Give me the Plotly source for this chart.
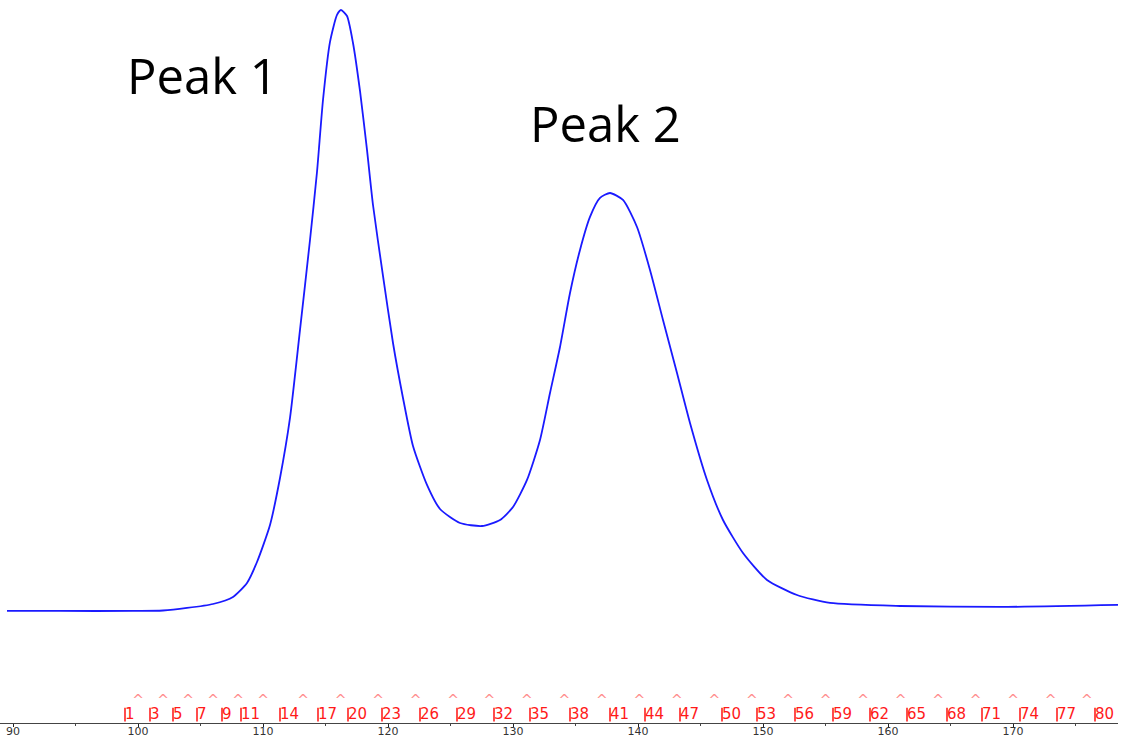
import plotly.graph_objects as go

# Chromatogram trace (elution volume, absorbance in relative units)
volume = [89.52, 93.76, 99.6, 102.0, 103.92, 106.0, 107.6, 108.72, 109.52, 110.56,
          111.36, 112.16, 112.96, 113.76, 114.32, 114.8, 115.36, 115.92, 116.24, 116.72,
          117.2, 117.76, 118.32, 118.8, 119.6, 120.4, 121.2, 122.0, 123.12, 124.16,
          125.76, 127.52, 128.96, 130.0, 131.12, 132.16, 132.96, 133.76, 134.56, 135.36,
          136.16, 136.96, 137.76, 138.8, 139.92, 140.96, 142.0, 143.12, 144.16, 145.52,
          146.8, 148.4, 150.32, 152.72, 155.36, 160.96, 168.96, 178.4]
absorbance = [0.0, 0.0, 0.0, 0.08, 0.5, 1.16, 2.33, 4.66, 8.15, 14.31,
              22.13, 32.11, 46.76, 61.73, 73.04, 85.02, 94.68, 99.17, 100.0, 99.0,
              94.51, 86.52, 76.71, 67.55, 55.74, 44.59, 35.44, 27.45, 20.97, 16.97,
              14.64, 14.14, 15.14, 17.30, 21.80, 28.45, 36.27, 43.93, 52.91, 60.07,
              65.56, 68.72, 69.55, 68.39, 63.89, 56.74, 48.42, 39.60, 31.28, 21.80,
              15.14, 9.65, 5.16, 2.66, 1.33, 0.83, 0.67, 1.0]

# Fraction markers
fraction_labels = ["1", "3", "5", "7", "9", "11", "14", "17", "20", "23", "26", "29",
                   "32", "35", "38", "41", "44", "47", "50", "53", "56", "59", "62",
                   "65", "68", "71", "74", "77", "80"]
fraction_pos = [98.96, 100.96, 102.8, 104.72, 106.72, 108.24, 111.36, 114.4, 116.8,
                119.52, 122.56, 125.52, 128.48, 131.36, 134.56, 137.76, 140.56, 143.36,
                146.72, 149.52, 152.56, 155.6, 158.56, 161.52, 164.72, 167.52, 170.56,
                173.52, 176.56]
caret_pos = [100, 102, 104, 106, 108, 110, 113.2, 116.2, 119.2, 122.2, 125.2, 128.1,
             131.1, 134.1, 137.1, 140.1, 143.1, 146.1, 149.1, 152.0, 155.0, 158.0,
             161.0, 164.0, 167.0, 170.0, 173.0, 175.9]

peak_labels = ["Peak 1", "Peak 2"]

fig = go.Figure()

fig.add_trace(go.Scatter(
    x=volume, y=absorbance, mode="lines",
    line=dict(color="#1a1aff", width=1.8, shape="spline", smoothing=0.6),
    hoverinfo="x+y", showlegend=False,
))

# fraction bars
bx, by = [], []
for p in fraction_pos:
    bx += [p, p, None]
    by += [0.002, 0.021, None]
fig.add_trace(go.Scatter(x=bx, y=by, mode="lines", line=dict(color="#ff2020", width=1.6),
                         yaxis="y2", showlegend=False, hoverinfo="skip"))
fig.add_trace(go.Scatter(x=fraction_pos, y=[0.011] * len(fraction_pos), mode="text",
                         text=fraction_labels, textposition="middle right",
                         textfont=dict(color="#ff1a1a", size=15, family="DejaVu Sans"),
                         yaxis="y2", showlegend=False, hoverinfo="skip", cliponaxis=True))
fig.add_trace(go.Scatter(x=caret_pos, y=[0.030] * len(caret_pos), mode="text",
                         text=["^"] * len(caret_pos), textposition="middle center",
                         textfont=dict(color="#ff8c8c", size=14, family="DejaVu Sans"),
                         yaxis="y2", showlegend=False, hoverinfo="skip"))

fig.update_layout(
    width=1129, height=741,
    margin=dict(l=0, r=11, t=0, b=18, autoexpand=False),
    plot_bgcolor="white", paper_bgcolor="white",
    xaxis=dict(range=[88.96, 178.4], showgrid=False, zeroline=False, automargin=False,
               showline=True, linecolor="#444444", linewidth=1.2,
               tick0=90, dtick=10, ticks="outside", ticklen=3, tickcolor="#222222",
               ticklabelstandoff=-5,
               minor=dict(tick0=95, dtick=10, ticks="outside", ticklen=2, tickcolor="#444444"),
               tickfont=dict(size=11, family="DejaVu Sans", color="#333333")),
    yaxis=dict(range=[-18.64, 101.66], visible=False, showgrid=False, zeroline=False,
               automargin=False),
    yaxis2=dict(range=[0, 1], overlaying="y", visible=False, showgrid=False, zeroline=False),
    annotations=[
        dict(text=peak_labels[0], x=202 / 1118, y=1 - 75 / 723, xref="paper", yref="paper",
             xanchor="center", yanchor="middle",
             showarrow=False, font=dict(size=49, family="Open Sans", color="black")),
        dict(text=peak_labels[1], x=605 / 1118, y=1 - 123 / 723, xref="paper", yref="paper",
             xanchor="center", yanchor="middle",
             showarrow=False, font=dict(size=49, family="Open Sans", color="black")),
    ],
)

fig.write_html("out.html",
               config={"displayModeBar": False},
               post_script="document.body.style.margin='0';document.body.style.padding='0';"
                           "document.body.style.overflow='hidden';")
